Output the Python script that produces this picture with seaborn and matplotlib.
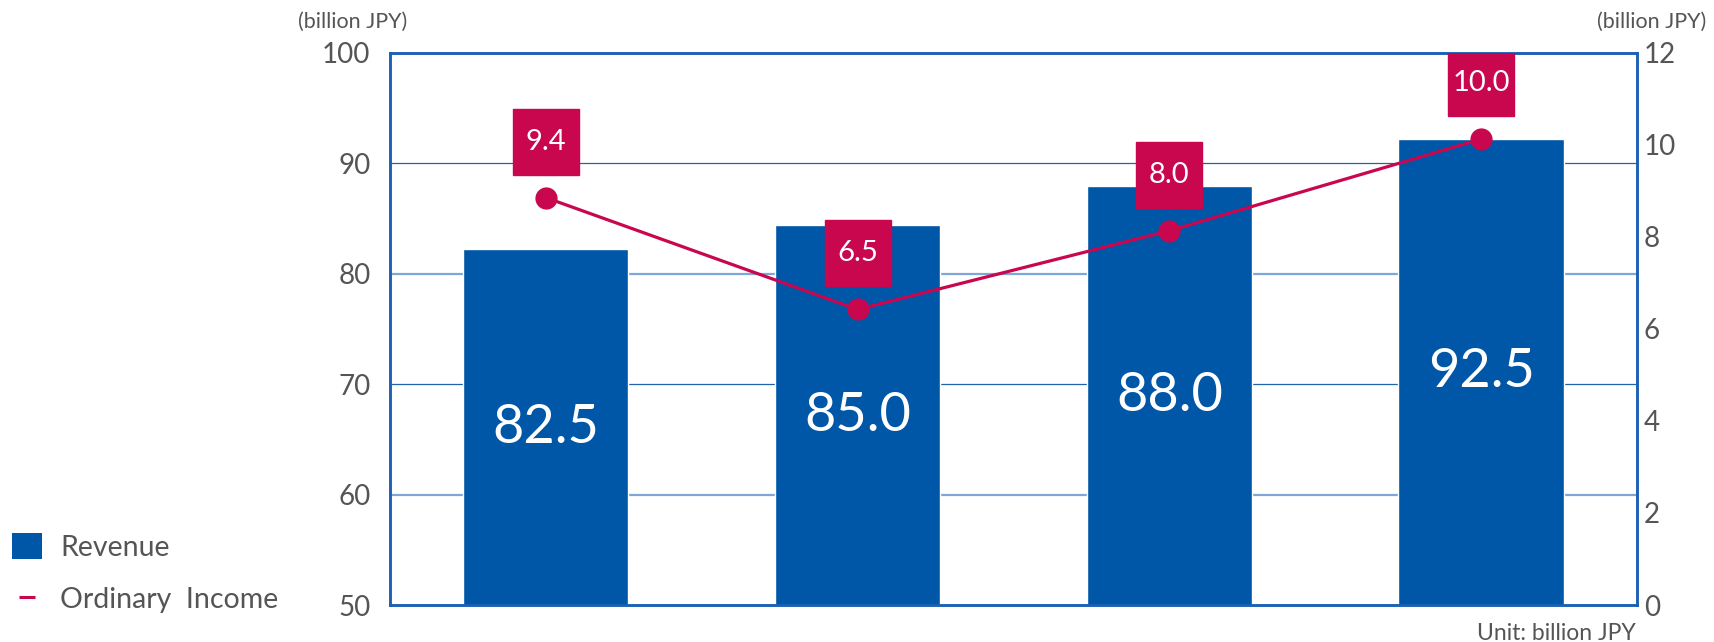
import matplotlib
matplotlib.use("Agg")
import matplotlib.pyplot as plt
import matplotlib.transforms as mtransforms
from matplotlib.patches import Patch
from matplotlib.lines import Line2D
import seaborn as sns
import pandas as pd

periods = ["P1", "P2", "P3", "P4"]
revenue = [82.2, 84.4, 87.9, 92.2]
revenue_labels = ["82.5", "85.0", "88.0", "92.5"]
ordinary_income = [8.85, 6.42, 8.13, 10.12]
income_labels = ["9.4", "6.5", "8.0", "10.0"]
left_ticks = [50, 60, 70, 80, 90, 100]
right_ticks = [0, 2, 4, 6, 8, 10, 12]

BAR = "#0056a7"
LINE = "#c8074f"
FRAME = "#1a5fb4"
TXT = "#555555"

sns.set_style("white")
plt.rcParams["font.family"] = ["Lato", "DejaVu Sans"]

df = pd.DataFrame({"period": periods, "revenue": revenue, "income": ordinary_income})

fig = plt.figure(figsize=(17.15, 6.42), dpi=100)
ax = fig.add_axes([0.2274, 0.0576, 0.7271, 0.8604])

sns.barplot(data=df, x="period", y="revenue", color=BAR, saturation=1, width=0.53, ax=ax, zorder=2)
ax.set_ylim(50, 100)
ax.set_xlim(-0.5, 3.5)
ax.set_yticks(left_ticks)
ax.set_xticks([])
ax.set_xlabel("")
ax.set_ylabel("")
ax.tick_params(axis="y", length=0, pad=14, labelsize=20, labelcolor=TXT)

# alternating grid colours
ax.set_axisbelow(True)
for v in left_ticks[1:-1]:
    if v % 20 == 0:
        ax.axhline(v, color="#7ea6d6", lw=1.6, zorder=0)
    else:
        ax.axhline(v, color="#2163ad", lw=0.9, zorder=0)

for bar, lab in zip(ax.patches, revenue_labels):
    cx = bar.get_x() + bar.get_width() / 2
    cy = 50 + (bar.get_height() - 50) / 2
    ax.text(cx, cy, lab, ha="center", va="center", color="white", fontsize=39)

ax2 = ax.twinx()
sns.lineplot(data=df, x="period", y="income", color=LINE, lw=2.3, marker="o",
             markersize=16, markeredgewidth=0, sort=False, ax=ax2, zorder=3)
ax2.set_ylim(0, 12)
ax2.set_yticks(right_ticks)
ax2.set_ylabel("")
ax2.tick_params(axis="y", length=0, pad=5, labelsize=20, labelcolor=TXT)

shift = ax2.transData + mtransforms.ScaledTranslation(0, 0.56, fig.dpi_scale_trans)
for i, (val, lab) in enumerate(zip(ordinary_income, income_labels)):
    ax2.plot([i], [val], marker="s", markersize=48, color=LINE, transform=shift, zorder=4)
    ax2.text(i, val, lab, ha="center", va="center", color="white", fontsize=21,
             transform=shift, zorder=5)

for a in (ax, ax2):
    for s in a.spines.values():
        s.set_color(FRAME)
        s.set_linewidth(1.8)

fig.text(353 / 1715, 1 - 22 / 642, "(billion JPY)", ha="center", va="center", fontsize=15.5, color=TXT)
fig.text(1652 / 1715, 1 - 22 / 642, "(billion JPY)", ha="center", va="center", fontsize=15.5, color=TXT)
fig.text(1636 / 1715, 1 - 633 / 642, "Unit: billion JPY", ha="right", va="center", fontsize=16.5, color=TXT)

handles = [Patch(facecolor=BAR, edgecolor="none"),
           Line2D([], [], color=LINE, marker="_", markersize=11, markeredgewidth=2.2, linestyle="none")]
fig.legend(handles, ["Revenue", "Ordinary  Income"], loc="upper left",
           bbox_to_anchor=(12 / 1715, 1 - 533 / 642), frameon=False, fontsize=20.5,
           handlelength=1.05, handleheight=1.05, handletextpad=0.65, labelspacing=0.85,
           borderpad=0, borderaxespad=0, labelcolor=TXT)

fig.savefig("out.png", dpi=100)
